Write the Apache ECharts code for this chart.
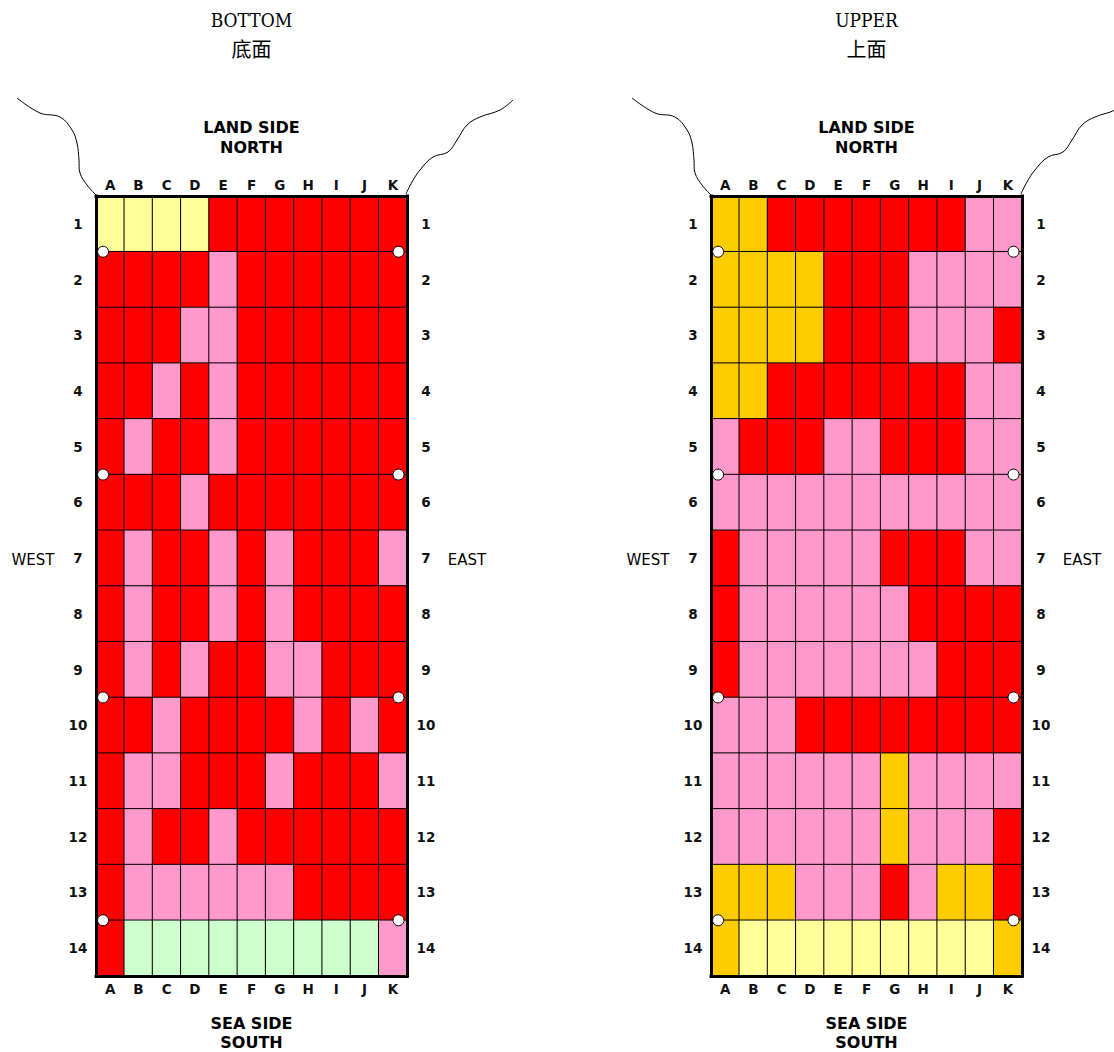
<!DOCTYPE html>
<html><head><meta charset="utf-8">
<script src="https://cdn.jsdelivr.net/npm/echarts@6/dist/echarts.min.js"></script>
<style>html,body{margin:0;padding:0;background:#fff}#main{width:1114px;height:1052px}</style>
</head><body><div id="main"></div>
<script>
// ---- data ----
const columns = ['A','B','C','D','E','F','G','H','I','J','K'];
const rows = ['1','2','3','4','5','6','7','8','9','10','11','12','13','14'];
// condition codes: 0 = red, 1 = pink, 2 = light yellow, 3 = light green, 4 = orange
const conditionColors = ['#FF0000','#FF99CC','#FFFF99','#CCFFCC','#FFCC00'];
const bottomFace = [
  [2,2,2,2,0,0,0,0,0,0,0],
  [0,0,0,0,1,0,0,0,0,0,0],
  [0,0,0,1,1,0,0,0,0,0,0],
  [0,0,1,0,1,0,0,0,0,0,0],
  [0,1,0,0,1,0,0,0,0,0,0],
  [0,0,0,1,0,0,0,0,0,0,0],
  [0,1,0,0,1,0,1,0,0,0,1],
  [0,1,0,0,1,0,1,0,0,0,0],
  [0,1,0,1,0,0,1,1,0,0,0],
  [0,0,1,0,0,0,0,1,0,1,0],
  [0,1,1,0,0,0,1,0,0,0,1],
  [0,1,0,0,1,0,0,0,0,0,0],
  [0,1,1,1,1,1,1,0,0,0,0],
  [0,3,3,3,3,3,3,3,3,3,1]
];
const upperFace = [
  [4,4,0,0,0,0,0,0,0,1,1],
  [4,4,4,4,0,0,0,1,1,1,1],
  [4,4,4,4,0,0,0,1,1,1,0],
  [4,4,0,0,0,0,0,0,0,1,1],
  [1,0,0,0,1,1,0,0,0,1,1],
  [1,1,1,1,1,1,1,1,1,1,1],
  [0,1,1,1,1,1,0,0,0,1,1],
  [0,1,1,1,1,1,1,0,0,0,0],
  [0,1,1,1,1,1,1,1,0,0,0],
  [1,1,1,0,0,0,0,0,0,0,0],
  [1,1,1,1,1,1,4,1,1,1,1],
  [1,1,1,1,1,1,4,1,1,1,0],
  [4,4,4,1,1,1,0,1,4,4,0],
  [4,2,2,2,2,2,2,2,2,2,4]
];
const markerRowBoundaries = [1,5,9,13];
const markerColumnPositions = [0.25,10.7];
const panelTitles = ['BOTTOM','UPPER'];
const panelTitlesCn = ['底面','上面'];

// ---- layout ----
const panels = [
  {left:96, faces: bottomFace},
  {left:711, faces: upperFace}
];
const gridTop = 196, gridW = 311, gridH = 780;

const grid = [], xAxis = [], yAxis = [], series = [], graphic = [];
const catAxisCommon = {
  type:'category', z:5,
  axisTick:{show:false}, splitLine:{show:false}, splitArea:{show:false},
  axisLine:{show:true, lineStyle:{color:'#000', width:3, cap:'square'}},
  axisLabel:{fontFamily:'"DejaVu Sans", Verdana, sans-serif', fontWeight:'bold', fontSize:13.5, color:'#111'}
};
// wavy shoreline decorations (relative to panel left edge 96)
const leftShore = [[17,98],[40,113],[60,117],[72,130],[77,143],[79,160],[80,173],[87,185],[96,195]];
const rightShore = [[513,100],[500,110],[480,117],[467,125],[457,140],[448,152],[433,157],[420,170],[412,182],[406,194]];

panels.forEach((p, i) => {
  grid.push({left:p.left, top:gridTop, width:gridW, height:gridH, containLabel:false});
  xAxis.push(Object.assign({}, catAxisCommon, {gridIndex:i, data:columns, position:'top',
    axisLabel:Object.assign({}, catAxisCommon.axisLabel, {margin:4})}));
  xAxis.push(Object.assign({}, catAxisCommon, {gridIndex:i, data:columns, position:'bottom',
    axisLabel:Object.assign({}, catAxisCommon.axisLabel, {margin:6})}));
  xAxis.push({type:'value', gridIndex:i, min:0, max:columns.length, show:false});
  yAxis.push(Object.assign({}, catAxisCommon, {gridIndex:i, data:rows, inverse:true, position:'left',
    axisLabel:Object.assign({}, catAxisCommon.axisLabel, {margin:18, align:'center'})}));
  yAxis.push(Object.assign({}, catAxisCommon, {gridIndex:i, data:rows, inverse:true, position:'right',
    axisLabel:Object.assign({}, catAxisCommon.axisLabel, {margin:19, align:'center'})}));
  yAxis.push({type:'value', gridIndex:i, min:0, max:rows.length, inverse:true, show:false});

  const data = [];
  p.faces.forEach((row, r) => row.forEach((code, c) => data.push([c, r, code])));
  series.push({
    type:'heatmap', xAxisIndex:3*i, yAxisIndex:3*i, data:data,
    itemStyle:{borderColor:'#000', borderWidth:1},
    emphasis:{disabled:true}, silent:true
  });
  const markers = [];
  markerRowBoundaries.forEach(rb => markerColumnPositions.forEach(cp => markers.push([cp, rb])));
  series.push({
    type:'scatter', xAxisIndex:3*i+2, yAxisIndex:3*i+2, data:markers, z:10,
    symbol:'circle', symbolSize:11,
    itemStyle:{color:'#fff', borderColor:'#000', borderWidth:1, opacity:1},
    emphasis:{disabled:true}, silent:true
  });

  const cx = p.left + gridW/2;
  const dx = p.left - 96;
  const sideFont = 'bold 16px "DejaVu Sans", Verdana, sans-serif';
  const t = (x, y, text, font) => graphic.push({type:'text', x:x, y:y, silent:true,
    style:{text:text, font:font, fill:'#000', textAlign:'center', textVerticalAlign:'middle'}});
  t(cx, 20, panelTitles[i], '19px "DejaVu Serif Condensed", "Liberation Serif", serif');
  t(cx, 48, panelTitlesCn[i], '20px "Noto Sans CJK SC", sans-serif');
  t(cx, 127, 'LAND SIDE', sideFont);
  t(cx, 147, 'NORTH', sideFont);
  t(cx, 1023, 'SEA SIDE', sideFont);
  t(cx, 1042, 'SOUTH', sideFont);
  t(33+dx, 560, 'WEST', '15px "DejaVu Sans", Verdana, sans-serif');
  t(467+dx, 560, 'EAST', '15px "DejaVu Sans", Verdana, sans-serif');
  graphic.push({type:'polyline', shape:{points:leftShore.map(pt => [pt[0]+dx, pt[1]]), smooth:0.4}, style:{stroke:'#000', lineWidth:1, fill:null}, silent:true});
  graphic.push({type:'polyline', shape:{points:rightShore.map(pt => [pt[0]+dx, pt[1]]), smooth:0.4}, style:{stroke:'#000', lineWidth:1, fill:null}, silent:true});
});

const chart = echarts.init(document.getElementById('main'), null, {renderer:'svg'});
chart.setOption({
  backgroundColor:'#fff',
  animation:false,
  grid, xAxis, yAxis, series, graphic,
  visualMap:{
    type:'piecewise', show:false, dimension:2, seriesIndex:[0,2],
    pieces: conditionColors.map((c, k) => ({value:k, color:c}))
  }
});
</script>
</body></html>
